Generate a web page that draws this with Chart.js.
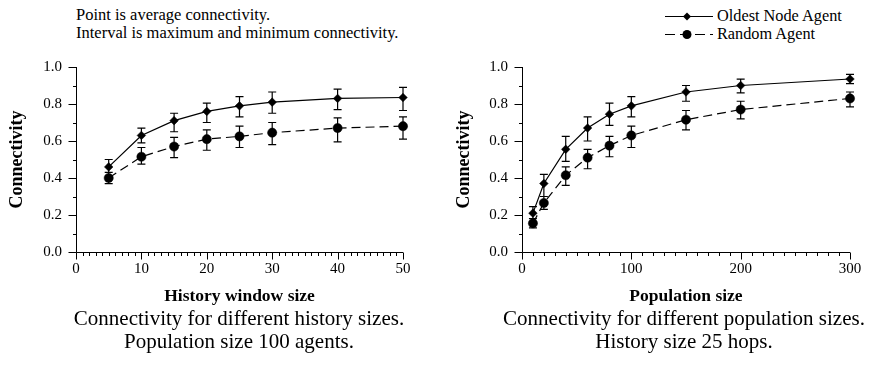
<!DOCTYPE html>
<html lang="en">
<head>
  <meta charset="UTF-8">
  <title>Connectivity</title>
  <style>
    * {
      margin: 0;
      padding: 0;
      box-sizing: border-box;
    }

    body {
      width: 873px;
      height: 367px;
      position: relative;
      overflow: hidden;
      background: #fff;
      color: #000;
      font-family: "Liberation Serif", "Times New Roman", serif;
    }

    canvas {
      position: absolute;
      top: 0;
    }

    #historyChart { left: 0; }
    #populationChart { left: 436px; }

    .note {
      position: absolute;
      left: 76px;
      top: 6px;
      font-size: 16.5px;
      line-height: 18px;
      white-space: nowrap;
    }

    .legend {
      position: absolute;
      left: 663px;
      top: 7px;
      font-size: 16.3px;
      white-space: nowrap;
    }

    .legend .row {
      display: flex;
      align-items: center;
      height: 18px;
    }

    .legend svg {
      margin-right: 4px;
    }

    .caption {
      position: absolute;
      top: 307px;
      width: 436px;
      text-align: center;
      font-size: 21px;
      line-height: 23px;
      white-space: nowrap;
    }
  </style>
  <script src="https://cdn.jsdelivr.net/npm/chart.js"></script>
</head>
<body>
  <div class="note">Point is average connectivity.<br>Interval is maximum and minimum connectivity.</div>

  <div class="legend">
    <div class="row">
      <svg width="50" height="15">
        <line x1="2" y1="7.5" x2="50" y2="7.5" stroke="#000" stroke-width="1.2"/>
        <path d="M24 3.5 L28 7.5 L24 11.5 L20 7.5 Z" fill="#000"/>
      </svg>
      <span>Oldest Node Agent</span>
    </div>
    <div class="row">
      <svg width="50" height="15">
        <line x1="2" y1="7.5" x2="50" y2="7.5" stroke="#000" stroke-width="1.2" stroke-dasharray="10 5"/>
        <circle cx="24" cy="7.5" r="4.5" fill="#000"/>
      </svg>
      <span>Random Agent</span>
    </div>
  </div>

  <canvas id="historyChart" width="436" height="367"></canvas>
  <canvas id="populationChart" width="437" height="367"></canvas>

  <div class="caption" style="left: 21px;">Connectivity for different history sizes.<br>Population size 100 agents.</div>
  <div class="caption" style="left: 466px;">Connectivity for different population sizes.<br>History size 25 hops.</div>

  <script>
    // history window size chart (population 100)
    const historySizes = [5, 10, 15, 20, 25, 30, 40, 50];
    const histOldest = [0.46, 0.63, 0.71, 0.76, 0.79, 0.81, 0.83, 0.835];
    const histOldestMin = [0.43, 0.59, 0.65, 0.70, 0.73, 0.75, 0.77, 0.765];
    const histOldestMax = [0.50, 0.67, 0.75, 0.805, 0.84, 0.865, 0.88, 0.89];
    const histRandom = [0.40, 0.515, 0.57, 0.61, 0.625, 0.645, 0.67, 0.68];
    const histRandomMin = [0.37, 0.475, 0.51, 0.55, 0.565, 0.58, 0.595, 0.61];
    const histRandomMax = [0.43, 0.565, 0.62, 0.66, 0.68, 0.70, 0.725, 0.73];

    // population size chart (history 25 hops)
    const popSizes = [10, 20, 40, 60, 80, 100, 150, 200, 300];
    const popOldest = [0.21, 0.37, 0.555, 0.67, 0.745, 0.79, 0.865, 0.90, 0.935];
    const popOldestMin = [0.18, 0.30, 0.49, 0.60, 0.685, 0.73, 0.815, 0.86, 0.91];
    const popOldestMax = [0.245, 0.42, 0.625, 0.73, 0.805, 0.84, 0.90, 0.935, 0.96];
    const popRandom = [0.155, 0.265, 0.415, 0.51, 0.575, 0.63, 0.715, 0.77, 0.83];
    const popRandomMin = [0.13, 0.23, 0.36, 0.45, 0.515, 0.565, 0.66, 0.72, 0.785];
    const popRandomMax = [0.18, 0.30, 0.46, 0.555, 0.625, 0.68, 0.765, 0.815, 0.865];

    const yTicks = [0, 0.2, 0.4, 0.6, 0.8, 1.0];

    const FONT = "'Liberation Serif', 'Times New Roman', serif";

    // min/max whiskers, drawn under the markers
    const errorBars = {
      id: "errorBars",
      beforeDatasetsDraw(chart) {
        const { ctx, scales: { x, y } } = chart;
        ctx.save();
        ctx.strokeStyle = "#000";
        ctx.lineWidth = 1.2;
        ctx.beginPath();
        chart.data.datasets.forEach(ds => {
          ds.data.forEach(p => {
            const px = x.getPixelForValue(p.x);
            const top = y.getPixelForValue(p.max);
            const bot = y.getPixelForValue(p.min);
            ctx.moveTo(px, top); ctx.lineTo(px, bot);
            ctx.moveTo(px - 4, top); ctx.lineTo(px + 4, top);
            ctx.moveTo(px - 4, bot); ctx.lineTo(px + 4, bot);
          });
        });
        ctx.stroke();
        ctx.restore();
      }
    };

    // axis lines with major and minor tick marks
    const axisTicks = {
      id: "axisTicks",
      afterDraw(chart, args, opts) {
        const { ctx, chartArea: a, scales: { x, y } } = chart;
        ctx.save();
        ctx.strokeStyle = "#000";
        ctx.lineWidth = 1;
        ctx.beginPath();
        const ax = Math.round(a.left) + 0.5;
        const ay = Math.round(a.bottom) + 0.5;
        ctx.moveTo(ax, a.top); ctx.lineTo(ax, ay);
        ctx.moveTo(ax, ay); ctx.lineTo(a.right, ay);
        const nx = Math.round(x.max / opts.minor);
        for (let i = 0; i <= nx; i++) {
          const v = i * opts.minor;
          const px = Math.round(x.getPixelForValue(v)) + 0.5;
          const major = i % Math.round(opts.major / opts.minor) === 0;
          ctx.moveTo(px, ay); ctx.lineTo(px, ay + (major ? 7 : 3.5));
        }
        for (let i = 0; i <= 10; i++) {
          const py = Math.round(y.getPixelForValue(i / 10)) + 0.5;
          ctx.moveTo(ax, py); ctx.lineTo(ax - (i % 2 === 0 ? 8 : 3.5), py);
        }
        ctx.stroke();
        ctx.restore();
      }
    };

    function points(xs, ys, lo, hi) {
      return xs.map((v, i) => ({ x: v, y: ys[i], min: lo[i], max: hi[i] }));
    }

    function buildChart(id, xs, oldest, oldestMin, oldestMax, random, randomMin, randomMax, cfg) {
      return new Chart(document.getElementById(id), {
        type: "line",
        data: {
          datasets: [
            {
              label: "Oldest Node Agent",
              data: points(xs, oldest, oldestMin, oldestMax),
              borderColor: "#000",
              borderWidth: 1.2,
              backgroundColor: "#000",
              pointStyle: "rectRot",
              pointRadius: 4.3,
              pointBorderWidth: 0.5,
              tension: 0
            },
            {
              label: "Random Agent",
              data: points(xs, random, randomMin, randomMax),
              borderColor: "#000",
              borderWidth: 1.2,
              borderDash: [9, 5],
              backgroundColor: "#000",
              pointStyle: "circle",
              pointRadius: 4.6,
              pointBorderWidth: 0.5,
              tension: 0
            }
          ]
        },
        options: {
          responsive: false,
          animation: false,
          clip: false,
          layout: { padding: { left: 0, top: 67, right: cfg.padRight, bottom: 60 } },
          plugins: {
            legend: { display: false },
            tooltip: { enabled: false },
            axisTicks: { major: cfg.major, minor: cfg.minor }
          },
          scales: {
            x: {
              type: "linear",
              min: 0,
              max: cfg.xMax,
              grid: { display: false, drawTicks: false },
              border: { display: false },
              ticks: {
                stepSize: cfg.major,
                padding: 8,
                color: "#000",
                font: { family: FONT, size: 15 }
              },
              title: {
                display: true,
                text: cfg.xTitle,
                color: "#000",
                padding: { top: 0, bottom: 0 },
                font: { family: FONT, size: 17.5, weight: "bold" }
              },
              afterFit(scale) { scale.height = 55; }
            },
            y: {
              min: 0,
              max: 1,
              grid: { display: false, drawTicks: false },
              border: { display: false },
              afterBuildTicks(scale) { scale.ticks = yTicks.map(v => ({ value: v })); },
              ticks: {
                padding: 14,
                color: "#000",
                font: { family: FONT, size: 15 },
                callback: v => v.toFixed(1)
              },
              title: {
                display: true,
                text: "Connectivity",
                color: "#000",
                padding: { top: cfg.yTitlePad, bottom: 0 },
                font: { family: FONT, size: 18, weight: "bold" }
              },
              afterFit(scale) { scale.width = cfg.yWidth; }
            }
          }
        },
        plugins: [errorBars, axisTicks]
      });
    }

    buildChart("historyChart", historySizes, histOldest, histOldestMin, histOldestMax,
      histRandom, histRandomMin, histRandomMax,
      { xMax: 50, major: 10, minor: 1, xTitle: "History window size", padRight: 33, yWidth: 76, yTitlePad: 7 });

    buildChart("populationChart", popSizes, popOldest, popOldestMin, popOldestMax,
      popRandom, popRandomMin, popRandomMax,
      { xMax: 300, major: 100, minor: 10, xTitle: "Population size", padRight: 23, yWidth: 86, yTitlePad: 18 });
  </script>
</body>
</html>
